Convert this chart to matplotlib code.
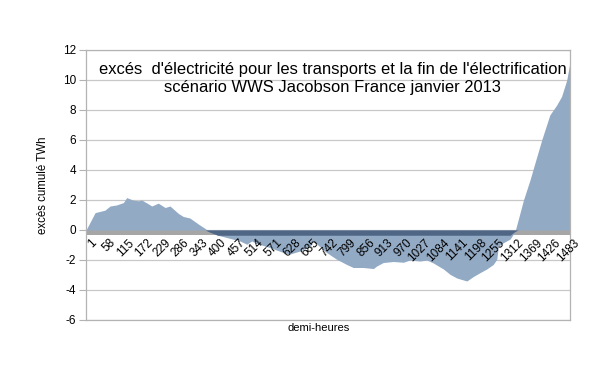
import numpy as np
import matplotlib
matplotlib.use("Agg")
import matplotlib.pyplot as plt

plt.rcParams['font.family'] = ['Liberation Sans', 'DejaVu Sans']

# demi-heure (index) et excès cumulé (TWh)
demi_heures = [1, 29, 59, 75, 95, 116, 126, 146, 162, 172, 192, 203, 223, 244, 259,
               285, 300, 320, 346, 367, 382, 406, 433, 474, 495, 510, 525, 556, 582,
               607, 628, 658, 689, 699, 740, 771, 802, 822, 853, 884, 894, 914, 945,
               976, 996, 1027, 1048, 1068, 1099, 1119, 1140, 1171, 1191, 1211, 1232,
               1252, 1263, 1268, 1283, 1304, 1319, 1329, 1345, 1365, 1380, 1401, 1426,
               1447, 1462, 1478, 1488]
exces = [0.0, 1.16, 1.32, 1.6, 1.67, 1.83, 2.16, 1.99, 1.95, 2.0, 1.75, 1.6, 1.79, 1.5, 1.6,
         1.1, 0.9, 0.8, 0.4, 0.1, -0.15, -0.35, -0.5, -0.73, -0.95, -0.73, -0.9, -1.1, -1.3,
         -1.5, -1.6, -1.4, -1.1, -0.73, -1.5, -1.95, -2.3, -2.5, -2.5, -2.57, -2.4, -2.17, -2.1,
         -2.15, -2.0, -2.07, -2.0, -2.2, -2.6, -2.95, -3.2, -3.4, -3.1, -2.85, -2.6,
         -2.3, -1.95, -1.07, -0.85, -0.6, -0.1, 0.7, 2.0, 3.33, 4.45, 6.0, 7.67,
         8.33, 8.9, 10.0, 11.2]

tick_labels = list(range(1, 1484, 57))
y_ticks = list(range(-6, 13, 2))

titre = ("excés  d'électricité pour les transports et la fin de l'électrification\n"
         "scénario WWS Jacobson France janvier 2013")

x = np.array(demi_heures, dtype=float)
y = np.array(exces)

fig = plt.figure(figsize=(6.01, 3.80), dpi=100)
ax = fig.add_axes([86/601, 1-320/380, 484/601, 270/380])

ax.set_xlim(1, 1488)
ax.set_ylim(-6, 12)

# grille
for v in y_ticks:
    ax.axhline(v, color='#c8c8c8', lw=0.9, zorder=0)

# bande grise de l'axe
band = 0.35
ax.axhspan(-band, 0, color='#a6a6a6', lw=0, zorder=1)

# aire
ax.fill_between(x, 0, y, color='#93aac5', lw=0, zorder=2)
ax.fill_between(x, 0, np.maximum(np.minimum(y, 0), -band), color='#4f6684', lw=0, zorder=3)

for s in ax.spines.values():
    s.set_color('#b3b3b3')
    s.set_linewidth(0.9)

ax.set_yticks(y_ticks)
ax.set_yticklabels([str(v) for v in y_ticks], fontsize=8.5)
ax.tick_params(axis='y', direction='out', length=5, color='#b3b3b3', pad=2)
ax.set_xticks([])

for t in tick_labels:
    ax.text(t + 14, -band - 0.1, str(t), rotation=45, ha='right', va='top',
            rotation_mode='anchor', fontsize=8.5, zorder=5)

ax.set_ylabel('excès cumulé TWh', fontsize=8.3, labelpad=10)
ax.set_xlabel('demi-heures', fontsize=8, labelpad=0)
ax.xaxis.set_label_coords(0.48, -0.01)

ax.text(0.51, 0.955, titre, transform=ax.transAxes, ha='center', va='top',
        fontsize=11.9, linespacing=1.2, zorder=6)

fig.savefig('out.png', dpi=100)
